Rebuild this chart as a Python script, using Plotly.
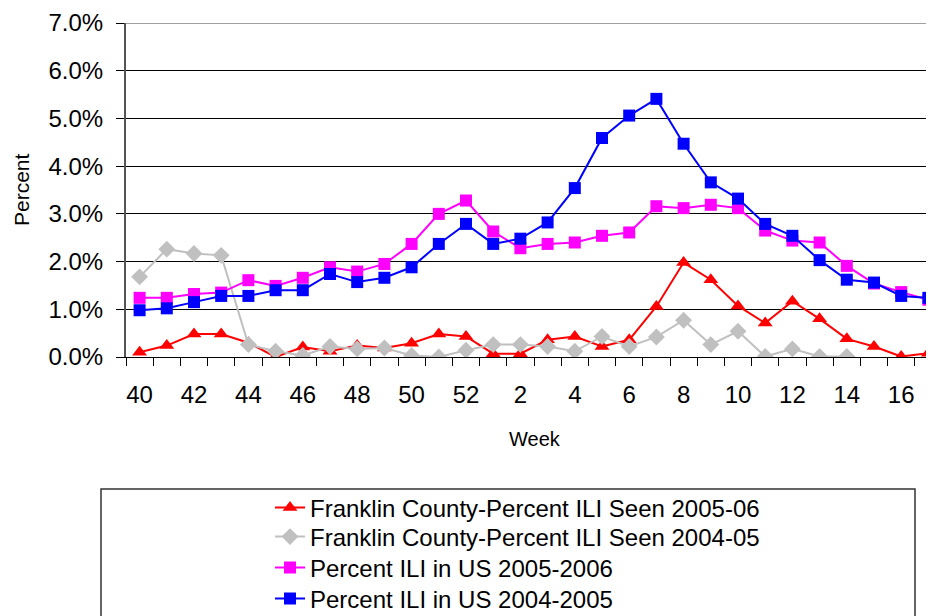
import plotly.graph_objects as go

weeks = [str(w) for w in list(range(40, 53)) + list(range(1, 18))]
tick_labels = [w if int(w) % 2 == 0 else "" for w in weeks]

franklin_2005_06 = [0.10, 0.24, 0.48, 0.48, 0.30, 0.00, 0.21, 0.12, 0.24, 0.19,
                    0.29, 0.48, 0.43, 0.07, 0.07, 0.36, 0.43, 0.22, 0.36, 1.06,
                    1.98, 1.62, 1.07, 0.71, 1.17, 0.80, 0.38, 0.22, 0.01, 0.08]
franklin_2004_05 = [1.68, 2.26, 2.17, 2.13, 0.26, 0.12, 0.03, 0.22, 0.17, 0.19,
                    0.03, 0.00, 0.14, 0.26, 0.26, 0.22, 0.12, 0.43, 0.22, 0.42,
                    0.77, 0.26, 0.54, 0.01, 0.17, 0.01, 0.01, None, None, None]
us_2005_06 = [1.24, 1.24, 1.32, 1.35, 1.61, 1.49, 1.66, 1.88, 1.79, 1.95,
              2.37, 3.00, 3.28, 2.63, 2.28, 2.37, 2.40, 2.54, 2.61, 3.16,
              3.12, 3.19, 3.12, 2.65, 2.44, 2.40, 1.91, 1.54, 1.36, 1.20]
us_2004_05 = [0.98, 1.02, 1.15, 1.28, 1.28, 1.40, 1.40, 1.74, 1.57, 1.66,
              1.88, 2.37, 2.79, 2.37, 2.48, 2.82, 3.54, 4.59, 5.06, 5.41,
              4.47, 3.66, 3.32, 2.79, 2.54, 2.03, 1.62, 1.56, 1.28, 1.24]

FONT = "Liberation Sans, Arial, sans-serif"

# page offset (default body margin of the html page)
OFF = 8
W, H = 934, 616
ml, mt = 126 - OFF, 23 - OFF
pw, ph = 808, 334
mr = W - ml - pw
mb = H - mt - ph
cat_w = 27.2

def px_x(p):  # page pixel -> paper x
    return (p - OFF - ml) / pw

def px_y(p):  # page pixel -> paper y
    return (mt + ph - (p - OFF)) / ph

fig = go.Figure()
series = [
    ("Franklin County-Percent ILI Seen 2005-06", franklin_2005_06, "#FF0000", "triangle-up", 13, "legend", 508),
    ("Franklin County-Percent ILI Seen 2004-05", franklin_2004_05, "#C0C0C0", "diamond", 13, "legend2", 537),
    ("Percent ILI in US 2005-2006", us_2005_06, "#FF00FF", "square", 12, "legend3", 568),
    ("Percent ILI in US 2004-2005", us_2004_05, "#0000FF", "square", 12, "legend4", 599),
]
legend_layouts = {}
for name, vals, color, sym, size, leg, ypix in series:
    fig.add_trace(go.Scatter(
        x=weeks, y=vals, name=name, mode="lines+markers",
        line=dict(color=color, width=2),
        marker=dict(symbol=sym, size=size, color=color),
        connectgaps=False, legend=leg, showlegend=True,
    ))
    legend_layouts[leg] = dict(
        x=px_x(270), y=px_y(ypix), xanchor="left", yanchor="middle",
        font=dict(family=FONT, size=24, color="black"),
        bgcolor="rgba(0,0,0,0)", borderwidth=0,
    )

fig.update_layout(
    width=W, height=H,
    margin=dict(l=ml, r=mr, t=mt, b=mb, pad=0, autoexpand=False),
    paper_bgcolor="white", plot_bgcolor="white",
    font=dict(family=FONT, color="black", size=22),
    showlegend=True,
    xaxis=dict(
        type="category",
        categoryorder="array", categoryarray=weeks,
        range=[-0.5, -0.5 + pw / cat_w],
        tickmode="array", tickvals=weeks, ticktext=tick_labels,
        tickson="boundaries", tickangle=0, automargin=False,
        ticks="outside", ticklen=8, tickcolor="black", tickwidth=1,
        showgrid=False,
        showline=True, linecolor="black", linewidth=1,
        tickfont=dict(family=FONT, size=24, color="black"),
        ticklabelstandoff=16,
    ),
    yaxis=dict(
        range=[0, 7], dtick=1, tick0=0, automargin=False,
        tickformat=".1f", ticksuffix="%",
        ticks="outside", ticklen=8, tickcolor="black", tickwidth=1,
        showgrid=True, gridcolor="black", gridwidth=1,
        showline=True, linecolor="#555555", linewidth=2,
        zeroline=False,
        tickfont=dict(family=FONT, size=24, color="black"),
        ticklabelstandoff=8,
    ),
    shapes=[
        dict(type="line", xref="paper", yref="y", x0=0, x1=1, y0=7, y1=7,
             line=dict(color="#A0A0A0", width=2), layer="above"),
        dict(type="rect", xref="paper", yref="paper",
             x0=px_x(101), x1=px_x(915), y0=px_y(489), y1=px_y(640),
             line=dict(color="#333333", width=1.5), fillcolor="rgba(0,0,0,0)"),
    ],
    annotations=[
        dict(text="Week", xref="paper", yref="paper", x=px_x(535), y=px_y(439),
             xanchor="center", yanchor="middle", showarrow=False,
             font=dict(family=FONT, size=20, color="black")),
        dict(text="Percent", xref="paper", yref="paper", x=px_x(21), y=px_y(190),
             xanchor="center", yanchor="middle", showarrow=False, textangle=-90,
             font=dict(family=FONT, size=21, color="black")),
    ],
    **legend_layouts,
)

fig.write_html("out.html")
